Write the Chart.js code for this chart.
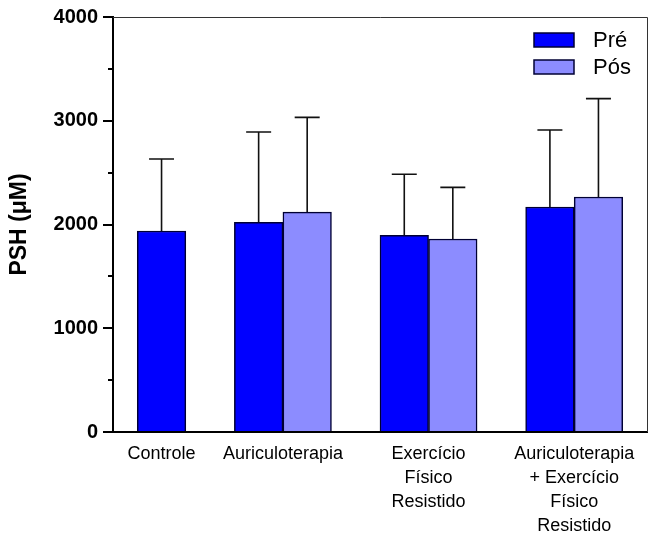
<!DOCTYPE html>
<html>
<head>
<meta charset="utf-8">
<script src="https://cdn.jsdelivr.net/npm/chart.js@4.4.1/dist/chart.umd.min.js"></script>
<style>
  body { margin: 0; background: #fff; }
</style>
</head>
<body>
<canvas id="psh" width="658" height="540"></canvas>
<script>
// dados
const groups = ["Controle", "Auriculoterapia", "Exercício Físico Resistido", "Auriculoterapia + Exercício Físico Resistido"];
const groupLines = [["Controle"], ["Auriculoterapia"], ["Exercício", "Físico", "Resistido"], ["Auriculoterapia", "+ Exercício", "Físico", "Resistido"]];
const preMean = [1937, 2021, 1896, 2169];
const preSD = [694, 871, 588, 742];
const posMean = [null, 2120, 1860, 2265];
const posSD = [null, 913, 498, 948];
const yTicks = [0, 1000, 2000, 3000, 4000];

// each group gets one slot per bar, with one empty slot between groups
const preX = [], posX = [], centers = [];
let pos = 0.5;
groups.forEach((g, i) => {
  const n = posMean[i] == null ? 1 : 2;
  preX.push(pos + 0.5);
  posX.push(n == 2 ? pos + 1.5 : null);
  centers.push(pos + n / 2);
  pos += n + 1;
});
const xMax = pos - 0.5;

const preData = preMean.map((y, i) => ({ x: preX[i], y: y, sd: preSD[i] }));
const posData = posMean.map((y, i) => ({ x: posX[i], y: y, sd: posSD[i] })).filter(d => d.y != null);

const FONT = "'Liberation Sans', Arial, sans-serif";

const errorBars = {
  id: "errorBars",
  afterDatasetsDraw(chart) {
    const ctx = chart.ctx;
    const y = chart.scales.y;
    ctx.save();
    ctx.strokeStyle = "#111";
    ctx.lineWidth = 1.6;
    chart.data.datasets.forEach((ds, di) => {
      chart.getDatasetMeta(di).data.forEach((bar, j) => {
        const d = ds.data[j];
        const top = y.getPixelForValue(d.y + d.sd);
        ctx.beginPath();
        ctx.moveTo(bar.x, bar.y);
        ctx.lineTo(bar.x, top);
        ctx.moveTo(bar.x - 12.5, top);
        ctx.lineTo(bar.x + 12.5, top);
        ctx.stroke();
      });
    });
    ctx.restore();
  }
};

const frame = {
  id: "frame",
  afterDraw(chart) {
    const { ctx, chartArea: a } = chart;
    const y = chart.scales.y;
    ctx.save();
    // top and right border
    ctx.strokeStyle = "#333";
    ctx.lineWidth = 1;
    ctx.beginPath();
    ctx.moveTo(a.left, a.top + 0.5);
    ctx.lineTo(a.right + 0.5, a.top + 0.5);
    ctx.lineTo(a.right + 0.5, a.bottom);
    ctx.stroke();
    // minor ticks
    ctx.strokeStyle = "#000";
    ctx.lineWidth = 2;
    for (let i = 0; i < yTicks.length - 1; i++) {
      const py = Math.round(y.getPixelForValue((yTicks[i] + yTicks[i + 1]) / 2));
      ctx.beginPath();
      ctx.moveTo(a.left - 5, py);
      ctx.lineTo(a.left, py);
      ctx.stroke();
    }
    // legend
    ctx.font = "22px " + FONT;
    ctx.textBaseline = "middle";
    chart.data.datasets.forEach((ds, i) => {
      const bx = a.right - 113, by = a.top + 16 + i * 27;
      ctx.fillStyle = ds.backgroundColor;
      ctx.fillRect(bx, by, 40, 14);
      ctx.strokeStyle = ds.borderColor;
      ctx.lineWidth = 1.5;
      ctx.strokeRect(bx, by, 40, 14);
      ctx.fillStyle = "#000";
      ctx.fillText(ds.label, bx + 59, by + 8);
    });
    ctx.restore();
  }
};

new Chart(document.getElementById("psh"), {
  type: "bar",
  data: {
    datasets: [
      { label: "Pré", data: preData, backgroundColor: "#0000ff", borderColor: "#000033", borderWidth: 1.5 },
      { label: "Pós", data: posData, backgroundColor: "#8c8cff", borderColor: "#000033", borderWidth: 1.5 }
    ]
  },
  options: {
    responsive: false,
    animation: false,
    devicePixelRatio: 1,
    grouped: false,
    barPercentage: 1,
    categoryPercentage: 1,
    layout: { padding: { top: 17, right: 11, left: 0, bottom: 0 } },
    plugins: { legend: { display: false }, tooltip: { enabled: false } },
    scales: {
      x: {
        type: "linear",
        offset: false,
        min: 0,
        max: xMax,
        grid: { display: false, drawTicks: false, offset: false },
        border: { display: true, color: "#000", width: 2 },
        afterBuildTicks: (s) => { s.ticks = centers.map(v => ({ value: v })); },
        afterFit: (s) => { s.height = 108; },
        ticks: {
          autoSkip: false,
          maxRotation: 0,
          padding: 10,
          color: "#000",
          font: { family: FONT, size: 18, lineHeight: 1.33 },
          callback: (v, i) => groupLines[i]
        }
      },
      y: {
        min: 0,
        max: 4000,
        afterBuildTicks: (s) => { s.ticks = yTicks.map(v => ({ value: v })); },
        afterFit: (s) => { s.width = 113; },
        grid: { drawOnChartArea: false, drawTicks: true, tickLength: 10, color: "#000", lineWidth: 2 },
        border: { display: true, color: "#000", width: 2 },
        ticks: {
          padding: 5,
          color: "#000",
          font: { family: FONT, size: 20, weight: "bold" },
          callback: (v) => String(v)
        },
        title: {
          display: true,
          text: "PSH (μM)",
          color: "#000",
          padding: { top: 6, bottom: 0 },
          font: { family: FONT, size: 23, weight: "bold" }
        }
      }
    }
  },
  plugins: [errorBars, frame]
});
</script>
</body>
</html>
